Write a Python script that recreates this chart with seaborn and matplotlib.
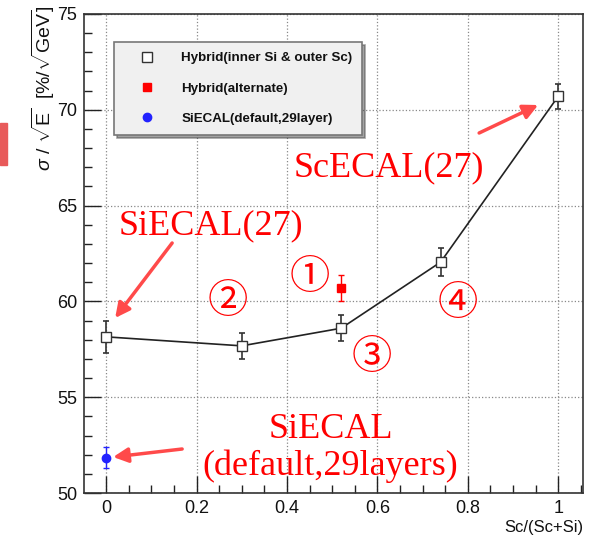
import matplotlib
matplotlib.use("Agg")
import matplotlib.pyplot as plt
import seaborn as sns
import pandas as pd
from matplotlib.lines import Line2D
from matplotlib.patches import Rectangle
from matplotlib.ticker import MultipleLocator

# ---- data ----
hyb_x = [0.0, 0.30, 0.52, 0.74, 1.0]
hyb_y = [58.15, 57.68, 58.6, 62.05, 70.7]
hyb_err = [0.85, 0.67, 0.69, 0.72, 0.64]

alt_x = [0.52]
alt_y = [60.7]
alt_err = [0.7]

def_x = [0.0]
def_y = [51.85]
def_err = [0.54]

legend_labels = ["Hybrid(inner Si & outer Sc)", "Hybrid(alternate)", "SiECAL(default,29layer)"]
x_ticks = [0, 0.2, 0.4, 0.6, 0.8, 1.0]
x_ticklabels = ["0", "0.2", "0.4", "0.6", "0.8", "1"]
y_ticks = [50, 55, 60, 65, 70, 75]

sns.set_theme(style="ticks")
plt.rcParams["font.family"] = ["Liberation Sans", "DejaVu Sans"]
plt.rcParams["mathtext.fontset"] = "custom"
plt.rcParams["mathtext.rm"] = "Liberation Sans"
plt.rcParams["mathtext.it"] = "Liberation Sans:italic"

fig = plt.figure(figsize=(5.94, 5.39), dpi=100)
ax = fig.add_axes([84/594, 1-493/539, (583-84)/594, (493-14)/539])

df = pd.DataFrame({"x": hyb_x, "y": hyb_y})
sns.lineplot(data=df, x="x", y="y", ax=ax, color="#222222", lw=1.2,
             marker="s", markersize=6.5, markerfacecolor="white",
             markeredgecolor="#333333", markeredgewidth=1.0, zorder=4)
ax.errorbar(hyb_x, hyb_y, yerr=hyb_err, fmt="none", ecolor="#333333",
            elinewidth=1.2, capsize=2.5, capthick=1.2, zorder=3)

ax.errorbar(alt_x, alt_y, yerr=alt_err, fmt="s", color="red", ms=6,
            elinewidth=1.0, capsize=2.5, zorder=4)
ax.errorbar(def_x, def_y, yerr=def_err, fmt="o", color="#2222ff", ms=6,
            elinewidth=1.0, capsize=2.5, zorder=4)

ax.set_xlim(-0.049, 1.055)
ax.set_ylim(50, 75)
ax.set_xticks(x_ticks)
ax.set_xticklabels(x_ticklabels)
ax.set_yticks(y_ticks)
ax.xaxis.set_minor_locator(MultipleLocator(0.05))
ax.yaxis.set_minor_locator(MultipleLocator(1))
ax.tick_params(which="major", direction="in", length=12, width=1, labelsize=13,
               color="#222222", labelcolor="#111111", pad=5)
ax.tick_params(which="minor", direction="in", length=6, width=1, color="#222222")
ax.grid(True, which="major", ls=":", color="#888888", lw=0.9)
for s in ax.spines.values():
    s.set_color("#333333")
    s.set_linewidth(1.2)

ax.set_xlabel("")
ax.set_ylabel("")
ax.text(1.0, -0.071, "Sc/(Sc+Si)", transform=ax.transAxes, ha="right", va="center",
        fontsize=12, color="#111111")
fig.text(43/594, 1-88/539, r"$\sigma\ /\ \sqrt{\mathrm{E}}\ \ [\%/\sqrt{\mathrm{GeV}}]$",
         rotation=90, ha="center", va="center", fontsize=14, color="#111111")

handles = [
    Line2D([], [], marker="s", ls="none", mfc="white", mec="#333333", ms=6.5, mew=1),
    Line2D([], [], marker="s", ls="none", color="red", ms=6),
    Line2D([], [], marker="o", ls="none", color="#2222ff", ms=6),
]
leg = ax.legend(handles, legend_labels, loc="upper left",
                bbox_to_anchor=(0.060, 0.9415), borderaxespad=0,
                prop={"family": "Liberation Sans", "weight": "bold", "size": 9.6},
                labelspacing=1.35, handlelength=3.4, handletextpad=0.9,
                borderpad=0.75, fancybox=False, shadow=True, framealpha=1)
leg.get_frame().set_facecolor("#f0f0f0")
leg.get_frame().set_edgecolor("#777777")
leg.get_frame().set_linewidth(1.2)
for t in leg.get_texts():
    t.set_color("#111111")
leg.set_zorder(6)

def px(xp, yp):
    return ((xp - 106) / 452.0, 75 - (yp - 14) / 19.16)

red = "#ff0000"
serif = {"family": "Liberation Serif", "size": 26, "color": red}
ax.text(*px(118, 234), "SiECAL(27)", ha="left", va="baseline", zorder=7, **serif)
ax.text(*px(293, 176), "ScECAL(27)", ha="left", va="baseline", zorder=7, **serif)
ax.text(*px(331, 438), "SiECAL", ha="center", va="baseline", zorder=7, **serif)
ax.text(*px(330, 475), "(default,29layers)", ha="center", va="baseline", zorder=7, **serif)

circ = {"family": ["Noto Sans CJK JP", "DejaVu Sans"], "size": 29, "color": red}
for label, (cx, cy) in zip(["①", "②", "③", "④"],
                           [(310, 277), (228, 302), (372, 357), (458, 303)]):
    ax.text(*px(cx, cy), label, ha="center", va="center", zorder=7, **circ)

arrow_col = "#ff4a4a"
for (sx, sy), (ex, ey) in [((172, 243), (115, 318)),
                           ((479, 133), (538, 105)),
                           ((182, 449), (113, 457))]:
    ax.annotate("", xy=px(ex, ey), xytext=px(sx, sy),
                arrowprops=dict(arrowstyle="-|>", color=arrow_col, lw=2.5,
                                mutation_scale=22, shrinkA=0, shrinkB=0),
                zorder=7)

fig.patches.append(Rectangle((0, 1-165/539), 7/594, 42/539,
                             transform=fig.transFigure, color="#e85a5a", zorder=0))

fig.savefig("out.png", dpi=100)
